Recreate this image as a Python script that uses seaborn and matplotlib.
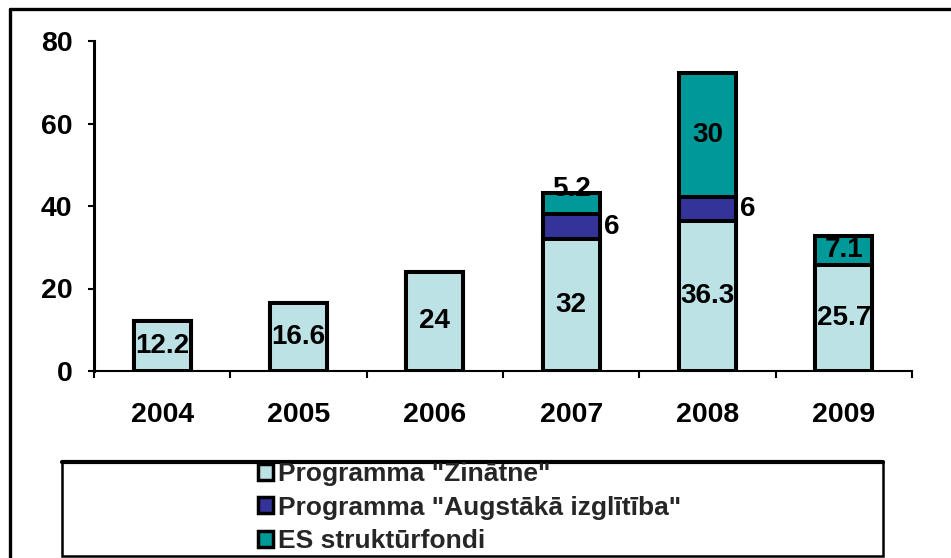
import matplotlib
matplotlib.use("Agg")
import matplotlib.pyplot as plt
import seaborn as sns
import numpy as np
import pandas as pd
from matplotlib.patches import Patch, Rectangle
from matplotlib.lines import Line2D
from matplotlib.ticker import FixedLocator

# ---- data ----
years = ["2004", "2005", "2006", "2007", "2008", "2009"]
zinatne = [12.2, 16.6, 24.0, 32.0, 36.3, 25.7]
augstaka = [0.0, 0.0, 0.0, 6.0, 6.0, 0.0]
es_fondi = [0.0, 0.0, 0.0, 5.2, 30.0, 7.1]
series_names = ['Programma "Zinātne"', 'Programma "Augstākā izglītība"', 'ES struktūrfondi']
yticks = [0, 20, 40, 60, 80]

col_zin = "#BDE2E6"
col_aug = "#333399"
col_es = "#009999"

sns.set_style("white")
plt.rcParams['font.family'] = ['Liberation Sans', 'DejaVu Sans']
plt.rcParams['font.weight'] = 'bold'

W, H = 951, 558
fig = plt.figure(figsize=(W / 100, H / 100), dpi=100)
ax = fig.add_axes([94 / W, 1 - 371 / H, (912 - 94) / W, (371 - 41) / H])

df = pd.DataFrame({"year": years, "zin": zinatne, "aug": augstaka, "es": es_fondi})
df["c2"] = df["zin"] + df["aug"]
df["c3"] = df["c2"] + df["es"]

bw = 0.42
elw = 2.9
for col, colr in [("c3", col_es), ("c2", col_aug), ("zin", col_zin)]:
    sns.barplot(data=df, x="year", y=col, color=colr, saturation=1, width=bw,
                edgecolor="black", linewidth=elw, errorbar=None, ax=ax)

for p in ax.patches:
    p.set_joinstyle("miter")

ax.set_xlim(-0.5, len(years) - 0.5)
ax.set_ylim(0, 80)
ax.set_yticks(yticks)
ax.set_xlabel("")
ax.set_ylabel("")

for s in ["top", "right"]:
    ax.spines[s].set_visible(False)
ax.spines["left"].set_linewidth(2.2)
ax.spines["bottom"].set_linewidth(1.5)
ax.spines["left"].set_color("black")
ax.spines["bottom"].set_color("black")

ax.tick_params(axis="y", direction="out", length=4.5, width=1.5, pad=11,
               labelsize=20.5, left=True, colors="black")
ax.tick_params(axis="x", which="major", length=0, pad=22, labelsize=20.5, colors="black")
ax.xaxis.set_minor_locator(FixedLocator(np.arange(-0.5, len(years), 1.0)))
ax.tick_params(axis="x", which="minor", direction="out", length=5, width=1.5,
               bottom=True, colors="black")
for lbl in ax.get_xticklabels() + ax.get_yticklabels():
    lbl.set_fontweight("bold")

# value labels
fs = 20
for i in range(len(years)):
    z, a, e = zinatne[i], augstaka[i], es_fondi[i]
    if z > 0:
        ax.text(i, z / 2, f"{z:g}", ha="center", va="center", fontsize=fs,
                fontweight="bold", color="black", zorder=10)
    if a > 0:
        ax.text(i + bw / 2 + 0.03, z + a / 2, f"{a:g}", ha="left", va="center",
                fontsize=fs, fontweight="bold", color="black", zorder=10)
    if e > 0:
        ye = z + a + e / 2
        if e < 6:
            ye = z + a + e + 1.0
        ax.text(i, ye, f"{e:g}", ha="center", va="center", fontsize=fs,
                fontweight="bold", color="black", zorder=10)

# outer frame (top and left lines)
fig.add_artist(Line2D([10 / W, 1.0], [1 - 9 / H, 1 - 9 / H], transform=fig.transFigure,
                      color="black", lw=2.4))
fig.add_artist(Line2D([10 / W, 10 / W], [0, 1 - 9 / H], transform=fig.transFigure,
                      color="black", lw=2.4))

# legend box
fig.add_artist(Rectangle((62 / W, 1 - 556 / H), (883 - 62) / W, (556 - 462) / H,
                         transform=fig.transFigure, fill=False, edgecolor="black", lw=1.8))
fig.add_artist(Line2D([62 / W, 883 / W], [1 - 462 / H, 1 - 462 / H], transform=fig.transFigure,
                      color="black", lw=3))

handles = [Patch(facecolor=c, edgecolor="black", linewidth=2.5) for c in (col_zin, col_aug, col_es)]
leg = fig.legend(handles, series_names, loc="upper left",
                 bbox_to_anchor=(258 / W, 1 - 462 / H), frameon=False,
                 prop={"size": 19, "weight": "bold"}, handlelength=0.55, handleheight=0.55,
                 handletextpad=0.2, labelspacing=0.36, borderpad=0, borderaxespad=0)

fig.savefig("out.png", dpi=100)
